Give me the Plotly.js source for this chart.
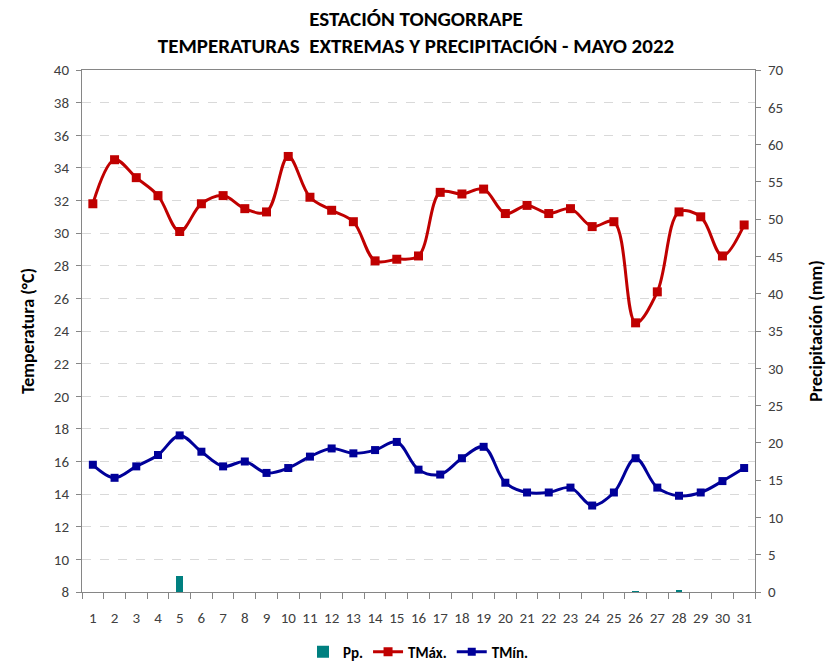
<!DOCTYPE html>
<html>
<head>
<meta charset="utf-8">
<script src="https://cdn.plot.ly/plotly-3.0.1.min.js"></script>
<style>html,body{margin:0;padding:0;background:#fff;}#chart{width:832px;height:662px;}</style>
</head>
<body>
<div id="chart"></div>
<script>
const days = [1,2,3,4,5,6,7,8,9,10,11,12,13,14,15,16,17,18,19,20,21,22,23,24,25,26,27,28,29,30,31];
const tmax = [31.8,34.5,33.4,32.3,30.1,31.8,32.3,31.5,31.3,34.7,32.2,31.4,30.7,28.3,28.4,28.6,32.5,32.4,32.7,31.2,31.7,31.2,31.5,30.4,30.7,24.5,26.4,31.3,31.0,28.6,30.5];
const tmin = [15.8,15.0,15.7,16.4,17.6,16.6,15.7,16.0,15.3,15.6,16.3,16.8,16.5,16.7,17.2,15.5,15.2,16.2,16.9,14.7,14.1,14.1,14.4,13.3,14.1,16.2,14.4,13.9,14.1,14.8,15.6];
const pp = [0,0,0,0,2.1,0,0,0,0,0,0,0,0,0,0,0,0,0,0,0,0,0,0,0,0,0.2,0,0.3,0,0,0];
const tickLabels = days.map(String);

const FONT = "Calibri, Carlito, Lato, sans-serif";
const tickFont = {family: FONT, size: 15, color: '#404040'};

const traces = [
  {type:'bar', name:'Pp.', x:days, y:pp, yaxis:'y2', width:0.3,
   marker:{color:'#008080'}},
  {type:'scatter', mode:'lines+markers', name:'TMáx.', x:days, y:tmax,
   line:{color:'#C00000', width:3, shape:'spline', smoothing:1},
   marker:{symbol:'square', size:9, color:'#C00000'}},
  {type:'scatter', mode:'lines+markers', name:'TMín.', x:days, y:tmin,
   line:{color:'#000099', width:3, shape:'spline', smoothing:1},
   marker:{symbol:'square', size:8, color:'#000099'}}
];

const layout = {
  width:832, height:662,
  margin:{l:82, r:77, t:70, b:70, autoexpand:false},
  paper_bgcolor:'#fff', plot_bgcolor:'#fff',
  title:{text:'ESTACIÓN TONGORRAPE<br>TEMPERATURAS  EXTREMAS Y PRECIPITACIÓN - MAYO 2022',
    font:{family:FONT, size:21, color:'#000', weight:'bold'},
    x:0.5, xanchor:'center', y:0.961, yanchor:'middle'},
  showlegend:true,
  legend:{orientation:'h', x:0.5, xanchor:'center', y:-0.115, yanchor:'middle',
    font:{family:FONT, size:15, color:'#000', weight:'bold'}, traceorder:'normal',
    itemwidth:30, tracegroupgap:0},
  xaxis:{range:[0.5,31.5], tickvals:days, ticktext:tickLabels, ticks:'', tickfont:tickFont,
    ticklabelstandoff:12,
    showline:true, linecolor:'#868686', linewidth:1, mirror:true, showgrid:false, zeroline:false,
    minor:{ticks:'outside', ticklen:6, tickcolor:'#868686', tick0:0.5, dtick:1, showgrid:false},
    fixedrange:true},
  yaxis:{range:[8,40], dtick:2, tick0:8, ticks:'outside', ticklen:5, tickcolor:'#868686',
    tickfont:tickFont, ticklabelstandoff:4, showline:true, linecolor:'#868686', linewidth:1,
    showgrid:true, gridcolor:'#D9D9D9', griddash:'dash', gridwidth:1, zeroline:false,
    title:{text:'Temperatura (°C)', font:{family:FONT, size:18, color:'#000', weight:'bold'}, standoff:14}},
  yaxis2:{range:[0,70], dtick:5, tick0:0, overlaying:'y', side:'right', ticks:'outside', ticklen:5,
    tickcolor:'#868686', tickfont:tickFont, ticklabelstandoff:4, showline:true, linecolor:'#868686', linewidth:1,
    showgrid:false, zeroline:false,
    title:{text:'Precipitación (mm)', font:{family:FONT, size:18, color:'#000', weight:'bold'}, standoff:26}},
  bargap:0
};

Plotly.newPlot('chart', traces, layout, {displayModeBar:false, staticPlot:true});
</script>
</body>
</html>
